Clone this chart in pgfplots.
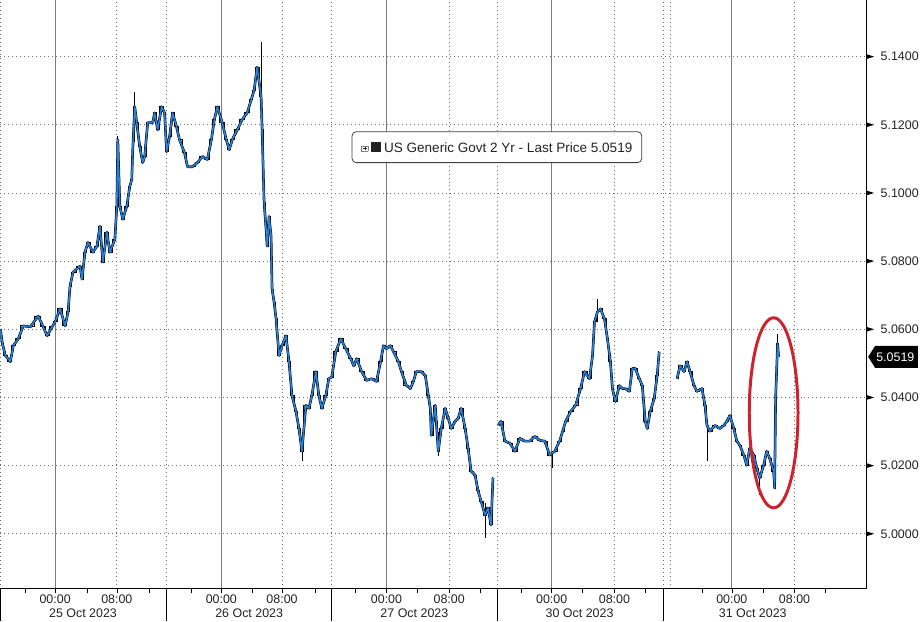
\documentclass[border=0pt]{standalone}
\usepackage{pgfplots}
\pgfplotsset{compat=1.18}
\usepackage{fontspec}
\setmainfont{Liberation Sans}
\definecolor{bbblue}{RGB}{41,128,215}
\definecolor{txt}{RGB}{35,35,35}
\definecolor{gridc}{RGB}{110,110,110}
\definecolor{ellred}{RGB}{205,35,45}

\pgfplotstableread{
x y
0 5.0601
2 5.0558
5 5.0523
10 5.0505
13 5.0552
18 5.0572
23 5.0610
30 5.0607
38 5.0639
43 5.0607
47 5.0581
52 5.0607
55 5.0622
60 5.0660
65 5.0610
68 5.0651
70 5.0727
73 5.0768
80 5.0785
82 5.0747
85 5.0826
88 5.0855
93 5.0826
97 5.0844
100 5.0902
103 5.0797
107 5.0885
110 5.0826
115 5.0864
117 5.0961
118 5.1156
120 5.0961
123 5.0923
127 5.0961
130 5.1019
132 5.1039
133 5.1127
135 5.1253
137 5.1206
140 5.1136
143 5.1089
145 5.1107
148 5.1206
153 5.1206
155 5.1235
158 5.1185
162 5.1253
165 5.1235
167 5.1121
170 5.1165
173 5.1235
177 5.1194
180 5.1156
185 5.1118
188 5.1077
193 5.1077
198 5.1089
203 5.1107
208 5.1098
212 5.1156
215 5.1215
218 5.1253
223 5.1206
227 5.1156
230 5.1127
233 5.1156
238 5.1185
243 5.1215
248 5.1235
252 5.1273
255 5.1302
258 5.1369
262 5.1282
263 5.1185
265 5.0972
267 5.0893
268 5.0844
270 5.0931
272 5.0873
273 5.0718
275 5.0680
277 5.0631
280 5.0523
283 5.0552
287 5.0581
290 5.0505
293 5.0406
297 5.0359
300 5.0309
303 5.0242
307 5.0377
310 5.0368
313 5.0406
317 5.0476
320 5.0406
323 5.0368
327 5.0406
330 5.0455
333 5.0460
337 5.0534
342 5.0572
347 5.0543
352 5.0514
355 5.0493
358 5.0514
363 5.0476
368 5.0450
373 5.0455
378 5.0447
382 5.0505
385 5.0552
388 5.0543
392 5.0552
395 5.0534
400 5.0505
403 5.0476
408 5.0435
412 5.0426
415 5.0447
418 5.0476
423 5.0476
427 5.0464
430 5.0406
432 5.0368
433 5.0289
437 5.0377
438 5.0330
440 5.0242
443 5.0309
447 5.0368
450 5.0339
453 5.0309
457 5.0330
460 5.0339
463 5.0368
467 5.0309
470 5.0251
473 5.0184
477 5.0172
480 5.0126
483 5.0096
487 5.0055
490 5.0076
493 5.0026
495 5.0164
}\segA

\pgfplotstableread{
x y
500 5.0318
503 5.0330
507 5.0272
512 5.0266
517 5.0242
522 5.0280
527 5.0272
532 5.0272
537 5.0286
542 5.0274
547 5.0272
552 5.0231
557 5.0242
562 5.0272
565 5.0301
568 5.0330
573 5.0359
578 5.0377
583 5.0426
587 5.0476
592 5.0455
595 5.0523
597 5.0622
600 5.0651
603 5.0660
607 5.0631
610 5.0572
613 5.0505
615 5.0426
618 5.0388
622 5.0435
625 5.0426
628 5.0426
632 5.0418
635 5.0485
638 5.0485
642 5.0455
645 5.0435
648 5.0330
650 5.0309
653 5.0359
657 5.0397
660 5.0464
662 5.0534
}\segB

\pgfplotstableread{
x y
680 5.0455
683 5.0493
687 5.0476
690 5.0505
693 5.0476
697 5.0435
700 5.0418
705 5.0426
708 5.0377
710 5.0318
713 5.0301
718 5.0318
723 5.0309
727 5.0318
730 5.0330
733 5.0347
737 5.0309
740 5.0272
743 5.0260
747 5.0231
750 5.0201
753 5.0251
757 5.0231
760 5.0193
763 5.0164
767 5.0201
770 5.0242
773 5.0222
777 5.0184
778 5.0134
779 5.0397
781 5.0558
782 5.0519
}\segC

\pgfplotstableread{
x y
118 5.0961
118 5.1166
118 nan
135 5.1150
135 5.1296
135 nan
262 5.1185
262 5.1442
262 nan
303 5.0213
303 5.0300
303 nan
440 5.0228
440 5.0300
440 nan
487 4.9988
487 5.0090
487 nan
555 5.0193
555 5.0240
555 nan
600 5.0620
600 5.0689
600 nan
710 5.0213
710 5.0320
710 nan
763 5.0114
763 5.0170
763 nan
781 5.0500
781 5.0587
}\wicks

\begin{document}
\begin{tikzpicture}
% vertical grid (drawn first, behind the data); plot area is 870pt x 591pt at the origin
\foreach \xx in {55,222,388,554,735}{
  \draw[gridc!90, line width=0.8pt] (\xx pt,0pt) -- (\xx pt,591pt);
}
\foreach \xx in {0.4,117,167,283,333,451,499,617,666,673,798}{
  \draw[gridc, line width=0.7pt, dash pattern=on 1pt off 3pt] (\xx pt,0pt) -- (\xx pt,591pt);
}
\begin{axis}[
  at={(0pt,0pt)}, anchor=south west,
  scale only axis, width=870pt, height=591pt,
  xmin=0, xmax=870, ymin=4.98394, ymax=5.1565,
  axis x line*=bottom, axis y line*=right,
  axis line style={black, line width=0.8pt},
  ytick={5.00,5.02,5.04,5.06,5.08,5.10,5.12,5.14},
  minor ytick={4.99,5.01,5.03,5.05,5.07,5.09,5.11,5.13,5.15},
  ymajorgrids,
  major grid style={gridc, line width=0.7pt, dash pattern=on 1pt off 3pt},
  scaled y ticks=false,
  yticklabel style={/pgf/number format/fixed, /pgf/number format/fixed zerofill, /pgf/number format/precision=4, /pgf/number format/assume math mode=true, font=\fontsize{12.5}{14}\selectfont, text=txt, xshift=7pt},
  xtick={55,117,222,283,388,451,554,617,735,798},
  xticklabels={00:00,08:00,00:00,08:00,00:00,08:00,00:00,08:00,00:00,08:00},
  minor xtick={25,87,150,192,253,316,357,419,482,523,585,648,705,767,829},
  xticklabel style={font=\fontsize{12.5}{14}\selectfont, text=txt, yshift=1pt},
  tick align=outside,
  ytick style={draw=none},
  minor y tick style={black, line width=0.6pt},
  minor tick length=4pt,
  major tick length=4pt,
  x tick style={black, line width=0.6pt},
  unbounded coords=jump,
]
\addplot[black, line width=0.8pt] table[x=x,y=y] {\wicks};
\addplot[black, line width=2.6pt, line join=round] table[x=x,y=y] {\segA};
\addplot[black, line width=2.6pt, line join=round] table[x=x,y=y] {\segB};
\addplot[black, line width=2.6pt, line join=round] table[x=x,y=y] {\segC};
\addplot[black, line width=0.9pt, const plot mark mid] table[x=x,y=y] {\segA};
\addplot[black, line width=0.9pt, const plot mark mid] table[x=x,y=y] {\segB};
\addplot[black, line width=0.9pt, const plot mark mid] table[x=x,y=y] {\segC};
\addplot[bbblue, line width=1.6pt, line join=round] table[x=x,y=y] {\segA};
\addplot[bbblue, line width=1.6pt, line join=round] table[x=x,y=y] {\segB};
\addplot[bbblue, line width=1.6pt, line join=round] table[x=x,y=y] {\segC};
\end{axis}
% session separators in the label band
\foreach \xx in {0.4,167,333,499,666}{
  \draw[black, line width=0.8pt] (\xx pt,0pt) -- (\xx pt,-33pt);
}
% major tick triangles on the right axis
\foreach \yy in {55,123.5,192,260.5,329,397.5,466,534.5}{
  \fill[black] (870pt,\yy pt+2.5pt) -- (878pt,\yy pt) -- (870pt,\yy pt-2.5pt) -- cycle;
}
% date labels
\foreach \xx/\lab in {83/25 Oct 2023,250/26 Oct 2023,416/27 Oct 2023,582/30 Oct 2023,756/31 Oct 2023}{
  \node[font=\fontsize{12.5}{14}\selectfont, text=txt] at (\xx pt,-25pt) {\lab};
}
% legend box
\node[draw=black!75, fill=white, rounded corners=4pt, line width=0.8pt, anchor=west,
      minimum height=31pt, minimum width=291pt, inner xsep=7pt, align=left,
      font=\fontsize{13.6}{15}\selectfont, text=txt] at (353pt,443.5pt)
  {\raisebox{1.5pt}{\fboxsep=0pt\fboxrule=0.4pt\fcolorbox{gray}{white}{\makebox[6pt][c]{\rule[2.7pt]{4pt}{0.4pt}\hspace{-2.2pt}\rule[0.7pt]{0.4pt}{4pt}\hspace{1.8pt}}}}\hspace{3pt}\rule{10pt}{10pt}\hspace{3pt}US Generic Govt 2 Yr - Last Price 5.0519};
% last price tag
\fill[black] (872pt,232.8pt) -- (879pt,243.8pt) -- (922pt,243.8pt) -- (922pt,221.8pt) -- (879pt,221.8pt) -- cycle;
\node[text=white, font=\fontsize{12.5}{14}\selectfont, anchor=west, inner sep=0pt] at (880pt,232.8pt) {5.0519};
% red ellipse
\draw[ellred, line width=3pt] (777pt,176.6pt) ellipse [x radius=24.5pt, y radius=95.5pt];
\path[use as bounding box] (0pt,-33pt) rectangle (922pt,591pt);
\end{tikzpicture}
\end{document}
